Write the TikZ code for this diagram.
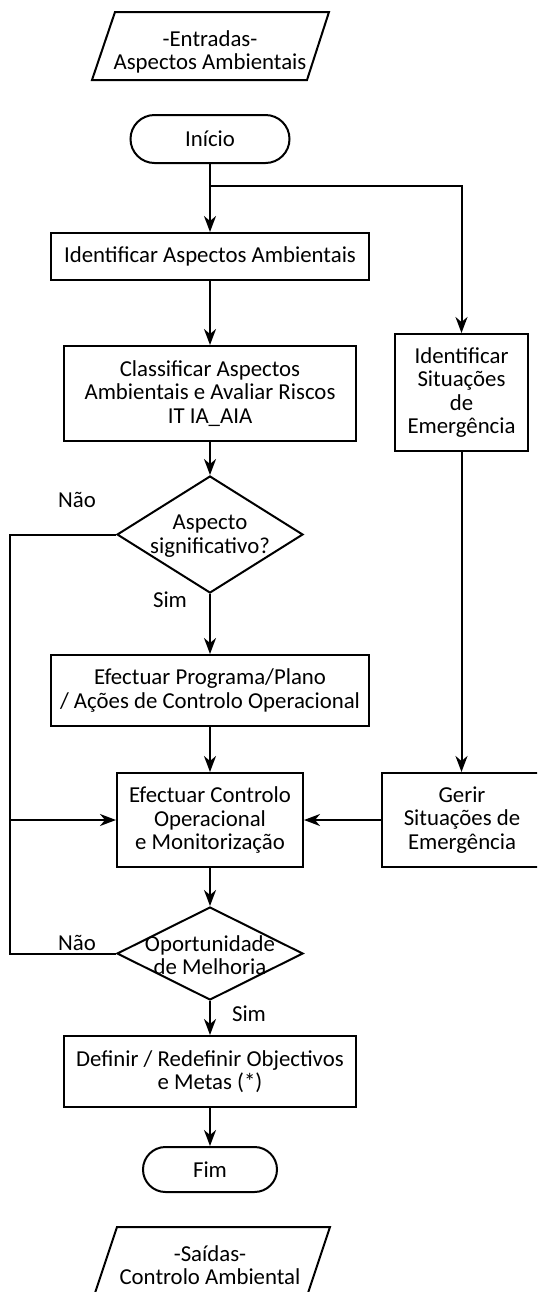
\documentclass[tikz,border=0pt]{standalone}
\usepackage{fontspec}
\setmainfont{Carlito}
\usetikzlibrary{arrows.meta,shapes.geometric,shapes.misc}
\begin{document}
\begin{tikzpicture}[x=0.5pt,y=-0.5pt,
  every node/.style={font=\fontsize{11.4}{11.7}\selectfont, align=center, inner sep=0pt},
  box/.style={draw, rectangle, line width=1pt},
  term/.style={draw, rounded rectangle, line width=1pt},
  dec/.style={draw, diamond, line width=1pt},
  para/.style={line width=1pt},
  con/.style={line width=1pt},
  arr/.style={con, -{Stealth[length=8pt,width=6pt,inset=2.5pt]}},
  lbl/.style={}]
\useasboundingbox (0,0) rectangle (537,1292);
\clip (0,0) rectangle (537,1292);
% input parallelogram
\coordinate (e1) at (115,12); \coordinate (e2) at (329,12);
\coordinate (e3) at (307,80); \coordinate (e4) at (92,80);
\draw[para] (e1) -- (e2) -- (e3) -- (e4) -- cycle;
\node (entr) at (210,52) {-Entradas-\\Aspectos Ambientais};
% main column
\node[term, minimum width=79.5pt, minimum height=24pt] (start) at (210,139) {Início};
\node[box, minimum width=159pt, minimum height=23.5pt] (id) at (210,256.5) {Identificar Aspectos Ambientais};
\node[box, minimum width=146pt, minimum height=47.5pt] (cl) at (210,393.5) {Classificar Aspectos\\Ambientais e Avaliar Riscos\\IT IA\_AIA};
\node[dec, minimum width=93pt, minimum height=58.5pt] (d1) at (210,534.5) {};
\node (d1t) at (210,536) {Aspecto\\significativo?};
\node[box, minimum width=159pt, minimum height=35.5pt] (prog) at (210,690.5) {Efectuar Programa/Plano\\/ Ações de Controlo Operacional};
\node[box, minimum width=93pt, minimum height=47pt] (ctrl) at (210,820) {Efectuar Controlo\\Operacional\\e Monitorização};
\node[dec, minimum width=93pt, minimum height=46.5pt] (d2) at (210,953.5) {};
\node (d2t) at (210,955) {Oportunidade\\de Melhoria};
\node[box, minimum width=146pt, minimum height=35.5pt] (def) at (210,1071.5) {Definir / Redefinir Objectivos\\e Metas (*)};
\node[term, minimum width=67pt, minimum height=22.5pt] (fim) at (210,1169.5) {Fim};
% right column
\node[box, minimum width=66.5pt, minimum height=58.5pt] (sit) at (461.5,392.5) {Identificar\\Situações\\de\\Emergência};
\node[box, minimum width=80pt, minimum height=47pt] (gerir) at (462,820) {Gerir\\Situações de\\Emergência};
% output parallelogram
\coordinate (s1) at (117,1227); \coordinate (s2) at (330,1227);
\coordinate (s3) at (307,1296); \coordinate (s4) at (94,1296);
\draw[para] (s1) -- (s2) -- (s3) -- (s4) -- cycle;
\node (said) at (210,1265) {-Saídas-\\Controlo Ambiental};
% labels
\node[lbl] (n1) at (77,500) {Não};
\node[lbl] (y1) at (170,600) {Sim};
\node[lbl] (n2) at (77,943) {Não};
\node[lbl] (y2) at (249,1014) {Sim};
% connectors
\coordinate (j1) at (210,186);
\draw[arr] (start.south) -- (id.north);
\draw[arr] (j1) -- (sit.north |- j1) -- (sit.north);
\draw[arr] (id.south) -- (cl.north);
\draw[arr] (cl.south) -- (d1.north);
\draw[arr] (d1.south) -- (prog.north);
\draw[arr] (prog.south) -- (ctrl.north);
\draw[arr] (ctrl.south) -- (d2.north);
\draw[arr] (d2.south) -- (def.north);
\draw[arr] (def.south) -- (fim.north);
\draw[arr] (sit.south) -- (sit.south |- gerir.north);
\draw[arr] (gerir.west) -- (ctrl.east);
\coordinate (L1) at (10,534.5);
\coordinate (L2) at (10,953.5);
\coordinate (L3) at (10,820);
\draw[con] (d1.west) -- (L1) -- (L2) -- (d2.west);
\draw[arr] (L3) -- (ctrl.west);
\end{tikzpicture}
\end{document}
